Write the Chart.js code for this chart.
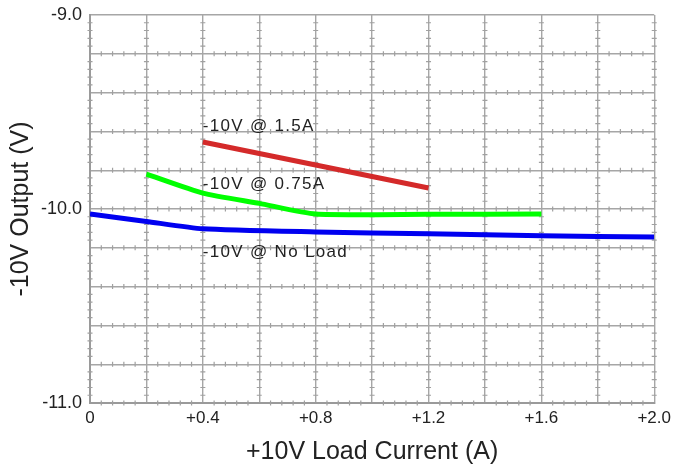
<!DOCTYPE html>
<html>
<head>
<meta charset="utf-8">
<script src="https://cdn.jsdelivr.net/npm/chart.js@4/dist/chart.umd.min.js"></script>
<style>
  html, body { margin: 0; padding: 0; background: #fff; }
  #wrap { width: 676px; height: 471px; }
</style>
</head>
<body>
<div id="wrap"><canvas id="chart" width="676" height="471"></canvas></div>
<script>
// valeurs
const courantNoLoad = [0, 0.2, 0.4, 0.8, 1.2, 1.6, 2.0];
const sortieNoLoad = [-10.026, -10.064, -10.102, -10.118, -10.128, -10.138, -10.144];

const courant075 = [0.2, 0.4, 0.6, 0.8, 1.2, 1.6];
const sortie075 = [-9.82, -9.918, -9.971, -10.026, -10.027, -10.026];

const courant15 = [0.4, 0.8, 1.2];
const sortie15 = [-9.655, -9.773, -9.892];

const etiquettesY = [-9, -10, -11];
const etiquettesSeries = ["-10V @ 1.5A", "-10V @ 0.75A", "-10V @ No Load"];
const positionsEtiquettes = [[0.4, -9.572], [0.4, -9.873], [0.4, -10.224]];

const police = "'Liberation Sans', Arial, sans-serif";

function points(xs, ys) {
  return xs.map((x, i) => ({ x: x, y: ys[i] }));
}

// petites graduations sur chaque ligne de grille + textes des courbes
const grillePlugin = {
  id: "grille",
  beforeDatasetsDraw(chart) {
    const { ctx, scales } = chart;
    const sx = scales.x, sy = scales.y;
    ctx.save();
    ctx.strokeStyle = "#a0a0a0";
    ctx.lineWidth = 1.2;
    ctx.beginPath();
    for (let gy = -11; gy <= -9.0001; gy += 0.2) {
      const py = sy.getPixelForValue(gy);
      for (let k = 1; k < 50; k++) {
        if (k % 5 === 0) continue;
        const px = sx.getPixelForValue(k * 0.04);
        ctx.moveTo(px, py - 2.5);
        ctx.lineTo(px, py + 2.5);
      }
    }
    for (let gx = 0; gx <= 2.0001; gx += 0.2) {
      const px = sx.getPixelForValue(gx);
      for (let k = 1; k < 50; k++) {
        if (k % 5 === 0) continue;
        const py = sy.getPixelForValue(-11 + k * 0.04);
        ctx.moveTo(px - 2.5, py);
        ctx.lineTo(px + 2.5, py);
      }
    }
    ctx.stroke();
    ctx.restore();
  },
  afterDatasetsDraw(chart) {
    const { ctx, scales } = chart;
    ctx.save();
    ctx.fillStyle = "#222";
    ctx.font = "17px " + police;
    ctx.letterSpacing = "1.3px";
    ctx.textBaseline = "middle";
    ctx.textAlign = "left";
    for (let i = 0; i < etiquettesSeries.length; i++) {
      const p = positionsEtiquettes[i];
      ctx.fillText(etiquettesSeries[i], scales.x.getPixelForValue(p[0]), scales.y.getPixelForValue(p[1]));
    }
    ctx.restore();
  },
};

const serie = (data, couleur) => ({
  data: data,
  borderColor: couleur,
  borderWidth: 5,
  pointRadius: 0,
  fill: false,
  tension: 0.2,
});

new Chart(document.querySelector("#chart"), {
  type: "line",
  data: {
    datasets: [
      serie(points(courant15, sortie15), "#d42a2a"),
      serie(points(courant075, sortie075), "#00ff00"),
      serie(points(courantNoLoad, sortieNoLoad), "#0000f0"),
    ],
  },
  options: {
    responsive: false,
    animation: false,
    layout: { padding: { top: 15, right: 19, left: 0, bottom: 0 } },
    plugins: { legend: { display: false }, tooltip: { enabled: false } },
    scales: {
      x: {
        type: "linear",
        min: 0,
        max: 2.0,
        afterFit: (s) => { s.height = 68; },
        grid: { color: "#a6a6a6", lineWidth: 1.4, drawTicks: false },
        border: { color: "#9a9a9a", width: 2 },
        ticks: {
          stepSize: 0.2,
          padding: 5,
          color: "#222",
          font: { family: police, size: 17 },
          maxRotation: 0,
          autoSkip: false,
          callback: (v) => {
            const r = Math.round(v * 10);
            if (r % 4 !== 0) return "";
            return r === 0 ? "0" : "+" + (r / 10).toFixed(1);
          },
        },
        title: {
          display: true,
          text: "+10V Load Current (A)",
          color: "#222",
          font: { family: police, size: 25 },
          padding: { top: 6 },
        },
      },
      y: {
        min: -11,
        max: -9,
        afterFit: (s) => {
          s.width = 90;
          s.paddingTop = 0;
          s.paddingBottom = 0;
        },
        grid: { color: "#a6a6a6", lineWidth: 1.4, drawTicks: false },
        border: { color: "#9a9a9a", width: 2 },
        ticks: {
          stepSize: 0.2,
          padding: 8,
          color: "#222",
          font: { family: police, size: 18 },
          autoSkip: false,
          callback: (v) => {
            const r = Math.round(v * 10) / 10;
            return etiquettesY.includes(r) ? r.toFixed(1) : "";
          },
        },
        title: {
          display: true,
          text: "-10V Output (V)",
          color: "#222",
          font: { family: police, size: 25 },
          padding: { top: 6, bottom: 0 },
        },
      },
    },
  },
  plugins: [grillePlugin],
});
</script>
</body>
</html>
